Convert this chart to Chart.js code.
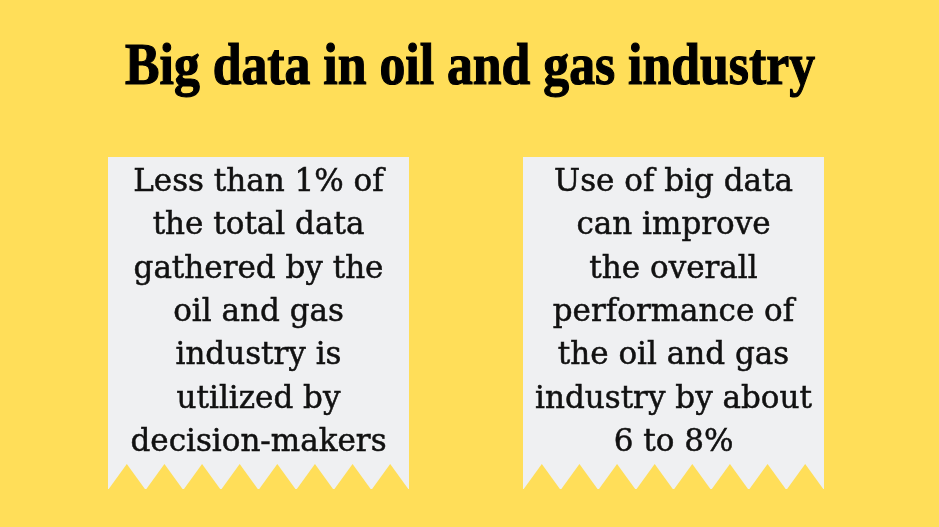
<!DOCTYPE html>
<html>
<head>
<meta charset="utf-8">
<script src="https://cdn.jsdelivr.net/npm/chart.js@4"></script>
<style>
  body { margin: 0; background: #FFDE59; }
  canvas { display: block; }
</style>
</head>
<body>
<canvas id="factChart" width="939" height="527"></canvas>
<script>
// title and the two cards
const chartTitle = 'Big data in oil and gas industry';
const cardLabels = ['Less than 1% utilized', 'Improvement of 6 to 8%'];
const cardValues = [1, 1]; // both cards are full height
const cardLines = [
    ['Less than 1% of', 'the total data', 'gathered by the', 'oil and gas', 'industry is', 'utilized by', 'decision-makers'],
    ['Use of big data', 'can improve', 'the overall', 'performance of', 'the oil and gas', 'industry by about', '6 to 8%']
];

const YELLOW = '#FFDE59';
const PAPER = '#EFF0F2';

// yellow page behind everything + the big title
const backgroundPlugin = {
    id: 'background',
    beforeDraw(chart) {
        const ctx = chart.ctx;
        ctx.save();
        ctx.fillStyle = YELLOW;
        ctx.fillRect(0, 0, chart.width, chart.height);

        // heavy condensed headline, squeezed to the same width as the original
        ctx.font = 'bold 60px "Liberation Serif"';
        ctx.fillStyle = '#000';
        ctx.strokeStyle = '#000';
        ctx.lineWidth = 1.2;
        ctx.textBaseline = 'alphabetic';
        ctx.textAlign = 'center';
        const w = ctx.measureText(chartTitle).width;
        const sx = 690 / w;
        ctx.translate(470, 84);
        ctx.scale(sx, 1);
        ctx.fillText(chartTitle, 0, 0);
        ctx.strokeText(chartTitle, 0, 0);
        ctx.restore();
    }
};

// zigzag torn edge and the text inside every card
const cardPlugin = {
    id: 'cardText',
    afterDatasetsDraw(chart) {
        const ctx = chart.ctx;
        const bars = chart.getDatasetMeta(0).data;
        bars.forEach((bar, i) => {
            const left = bar.x - bar.width / 2;
            const right = bar.x + bar.width / 2;
            const teeth = 8;
            const step = (right - left) / teeth;
            const base = bar.base;

            ctx.save();
            ctx.fillStyle = YELLOW;
            for (let t = 0; t < teeth; t++) {
                ctx.beginPath();
                ctx.moveTo(left + t * step, base + 1);
                ctx.lineTo(left + (t + 0.5) * step, base - 25);
                ctx.lineTo(left + (t + 1) * step, base + 1);
                ctx.closePath();
                ctx.fill();
            }

            ctx.fillStyle = '#111';
            ctx.strokeStyle = '#111';
            ctx.lineWidth = 0.5;
            ctx.font = '31px "DejaVu Serif"';
            ctx.textAlign = 'center';
            ctx.textBaseline = 'alphabetic';
            const lineHeight = 43.3;
            cardLines[i].forEach((line, j) => {
                const y = bar.y + 34 + j * lineHeight;
                ctx.fillText(line, bar.x, y);
                ctx.strokeText(line, bar.x, y);
            });
            ctx.restore();
        });
    }
};

const ctx = document.getElementById('factChart').getContext('2d');

new Chart(ctx, {
    type: 'bar',
    data: {
        labels: cardLabels,
        datasets: [{
            data: cardValues,
            backgroundColor: PAPER,
            borderWidth: 0,
            barPercentage: 1,
            categoryPercentage: 0.7253
        }]
    },
    options: {
        responsive: false,
        animation: false,
        layout: {
            padding: { left: 51, right: 58, top: 157, bottom: 38 }
        },
        scales: {
            x: { display: false },
            y: { display: false, min: 0, max: 1 }
        },
        plugins: {
            legend: { display: false },
            tooltip: { enabled: false }
        }
    },
    plugins: [backgroundPlugin, cardPlugin]
});
</script>
</body>
</html>
